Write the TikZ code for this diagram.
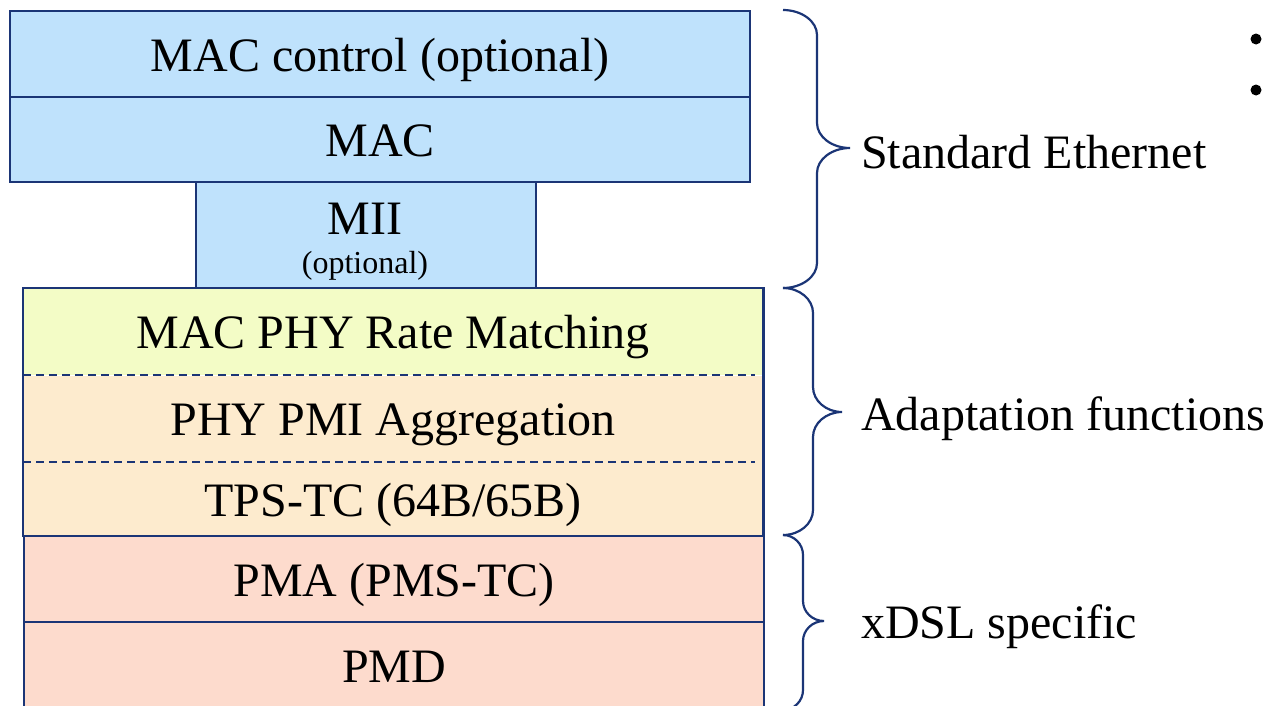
\documentclass[tikz,border=0pt]{standalone}
\usepackage{fontspec}
\setmainfont{Liberation Serif}
\definecolor{edge}{HTML}{1B3576}
\definecolor{ethblue}{HTML}{BFE2FC}
\definecolor{ratelime}{HTML}{F3FCC6}
\definecolor{adaptorange}{HTML}{FDEBCE}
\definecolor{dslpink}{HTML}{FDDBCD}

% Brace: #1 left x, #2 stem x, #3 tip x, #4 top y, #5 tip y, #6 bottom y, #7 corner radius
\newcommand\layerbrace[7]{%
  \draw[bracestyle]
    (#1,#4) .. controls ({#1+0.55*(#2-#1)},#4) and (#2,{#4+0.45*#7}) .. (#2,{#4+#7})
    -- (#2,{#5-#7})
    .. controls (#2,{#5-0.45*#7}) and ({#2+0.45*(#3-#2)},#5) .. (#3,#5)
    .. controls ({#2+0.45*(#3-#2)},#5) and (#2,{#5+0.45*#7}) .. (#2,{#5+#7})
    -- (#2,{#6-#7})
    .. controls (#2,{#6-0.45*#7}) and ({#1+0.55*(#2-#1)},#6) .. (#1,#6);}

\begin{document}
\begin{tikzpicture}[x=1pt,y=-1pt,
  bigtext/.style={font=\fontsize{48}{52}\selectfont},
  layerbox/.style={draw=edge, line width=2.2pt, inner sep=0pt, bigtext,
    text height=36pt, text depth=2pt, anchor=north west},
  bandbox/.style={draw=none, inner sep=0pt, bigtext,
    text height=36pt, text depth=2pt, minimum width=740pt},
  bracestyle/.style={draw=edge, line width=2.2pt},
  sidelabel/.style={bigtext, inner sep=0pt, anchor=base west},
  dotmark/.style={circle, fill=black, inner sep=0pt, minimum size=11pt}]

\useasboundingbox (0,0) rectangle (1268,705);

% Standard Ethernet layers
\node[layerbox, fill=ethblue, minimum width=740pt, minimum height=86pt] (macctl) at (9,10) {MAC control (optional)};
\node[layerbox, fill=ethblue, minimum width=740pt, minimum height=85pt] (mac) at (9,96) {MAC};
\node[layerbox, fill=ethblue, minimum width=340pt, minimum height=107pt] (mii) at (195,181) {};
\node[bigtext, inner sep=0pt, anchor=base] (miilbl) at (365,234) {MII};
\node[font=\fontsize{32}{36}\selectfont, inner sep=0pt, anchor=base] (miiopt) at (365,273) {(optional)};

% Adaptation functions
\node[bandbox, fill=ratelime, minimum height=87pt, anchor=north west] (rate) at (23,288) {MAC PHY Rate Matching};
\node[bandbox, fill=adaptorange, minimum height=86pt, anchor=north] (agg) at (rate.south) {PHY PMI Aggregation};
\node[bandbox, fill=adaptorange, minimum height=74pt, anchor=north] (tps) at (agg.south) {TPS-TC (64B/65B)};
\draw[edge, line width=2.2pt] (rate.north west) rectangle (tps.south east);
\draw[edge, line width=1.9pt, dash pattern=on 8pt off 5pt] (rate.south west) -- ([xshift=-8pt]rate.south east);
\draw[edge, line width=1.9pt, dash pattern=on 8pt off 5pt] (agg.south west) -- ([xshift=-8pt]agg.south east);

% xDSL specific layers
\node[layerbox, fill=dslpink, minimum width=740pt, minimum height=86pt] (pma) at (23,535) {PMA (PMS-TC)};
\node[layerbox, fill=dslpink, minimum width=740pt, minimum height=86pt] (pmd) at (23,621) {PMD};

% Braces and their labels
\layerbrace{783}{817}{850}{10}{148}{288}{25}
\layerbrace{783}{813}{842}{288}{412}{535}{25}
\layerbrace{783}{803}{824}{535}{621}{710}{20}
\node[sidelabel] (lblstd) at (861,168) {Standard Ethernet};
\node[sidelabel] (lbladapt) at (861,430) {Adaptation functions};
\node[sidelabel] (lbldsl) at (861,638) {xDSL specific};

% Bullet marks
\node[dotmark] (dot1) at (1256,39) {};
\node[dotmark] (dot2) at (1256,90) {};
\end{tikzpicture}
\end{document}
